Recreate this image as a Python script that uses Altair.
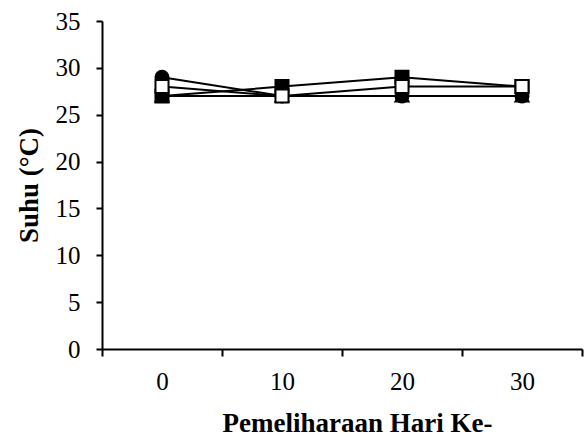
import altair as alt
import pandas as pd

days = ["0", "10", "20", "30"]
series_names = ["Circle", "FilledSquare", "Triangle", "OpenSquare"]
circle_vals = [29, 27, 27, 27]
filled_square_vals = [27, 28, 29, 28]
triangle_vals = [27, 27, 27, 27]
open_square_vals = [28, 27, 28, 28]

rows = []
for name, vals in zip(series_names, [circle_vals, filled_square_vals, triangle_vals, open_square_vals]):
    for d, v in zip(days, vals):
        rows.append({"day": d, "suhu": v, "series": name})
df = pd.DataFrame(rows)

FONT = "Liberation Serif"

x_enc = alt.X(
    "day:O",
    sort=days,
    scale=alt.Scale(type="band", paddingInner=0, paddingOuter=0),
    axis=alt.Axis(
        title="Pemeliharaan Hari Ke-",
        labelAngle=0,
        tickBand="extent",
        tickSize=7,
        tickWidth=2,
        domainWidth=2,
        domainColor="black",
        tickColor="black",
        labelPadding=13,
        labelFontSize=25,
        labelFont=FONT,
        labelColor="black",
        titleFont=FONT,
        titleFontSize=27,
        titleFontWeight="bold",
        titleColor="black",
        titlePadding=16,
        titleX=255,
        titleAlign="center",
    ),
)
y_enc = alt.Y(
    "suhu:Q",
    scale=alt.Scale(domain=[0, 35]),
    axis=alt.Axis(
        title="Suhu (°C)",
        values=[0, 5, 10, 15, 20, 25, 30, 35],
        grid=False,
        tickSize=6,
        tickWidth=2,
        domainWidth=2,
        domainColor="black",
        tickColor="black",
        labelPadding=16,
        labelFontSize=25,
        labelFont=FONT,
        labelColor="black",
        titleFont=FONT,
        titleFontSize=27,
        titleFontWeight="bold",
        titleColor="black",
        titlePadding=12,
    ),
)

base = alt.Chart(df)

lines = base.mark_line(color="black", strokeWidth=2).encode(
    x=x_enc, y=y_enc, detail="series:N"
)

def pts(name, shape, filled):
    return base.transform_filter(alt.datum.series == name).mark_point(
        shape=shape,
        size=170,
        filled=True,
        fill="black" if filled else "white",
        stroke="black",
        strokeWidth=2,
        opacity=1,
    ).encode(x=x_enc, y=y_enc)

chart = alt.layer(
    lines,
    pts("Circle", "circle", True),
    pts("Triangle", "triangle-up", True),
    pts("FilledSquare", "square", True),
    pts("OpenSquare", "square", False),
).properties(
    width=480,
    height=328,
    autosize=alt.AutoSizeParams(type="none"),
    padding={"left": 102, "top": 21, "right": 2, "bottom": 90},
    background="white",
).configure_view(stroke=None)

chart.save("out.html", embed_options={"renderer": "svg", "actions": False})
